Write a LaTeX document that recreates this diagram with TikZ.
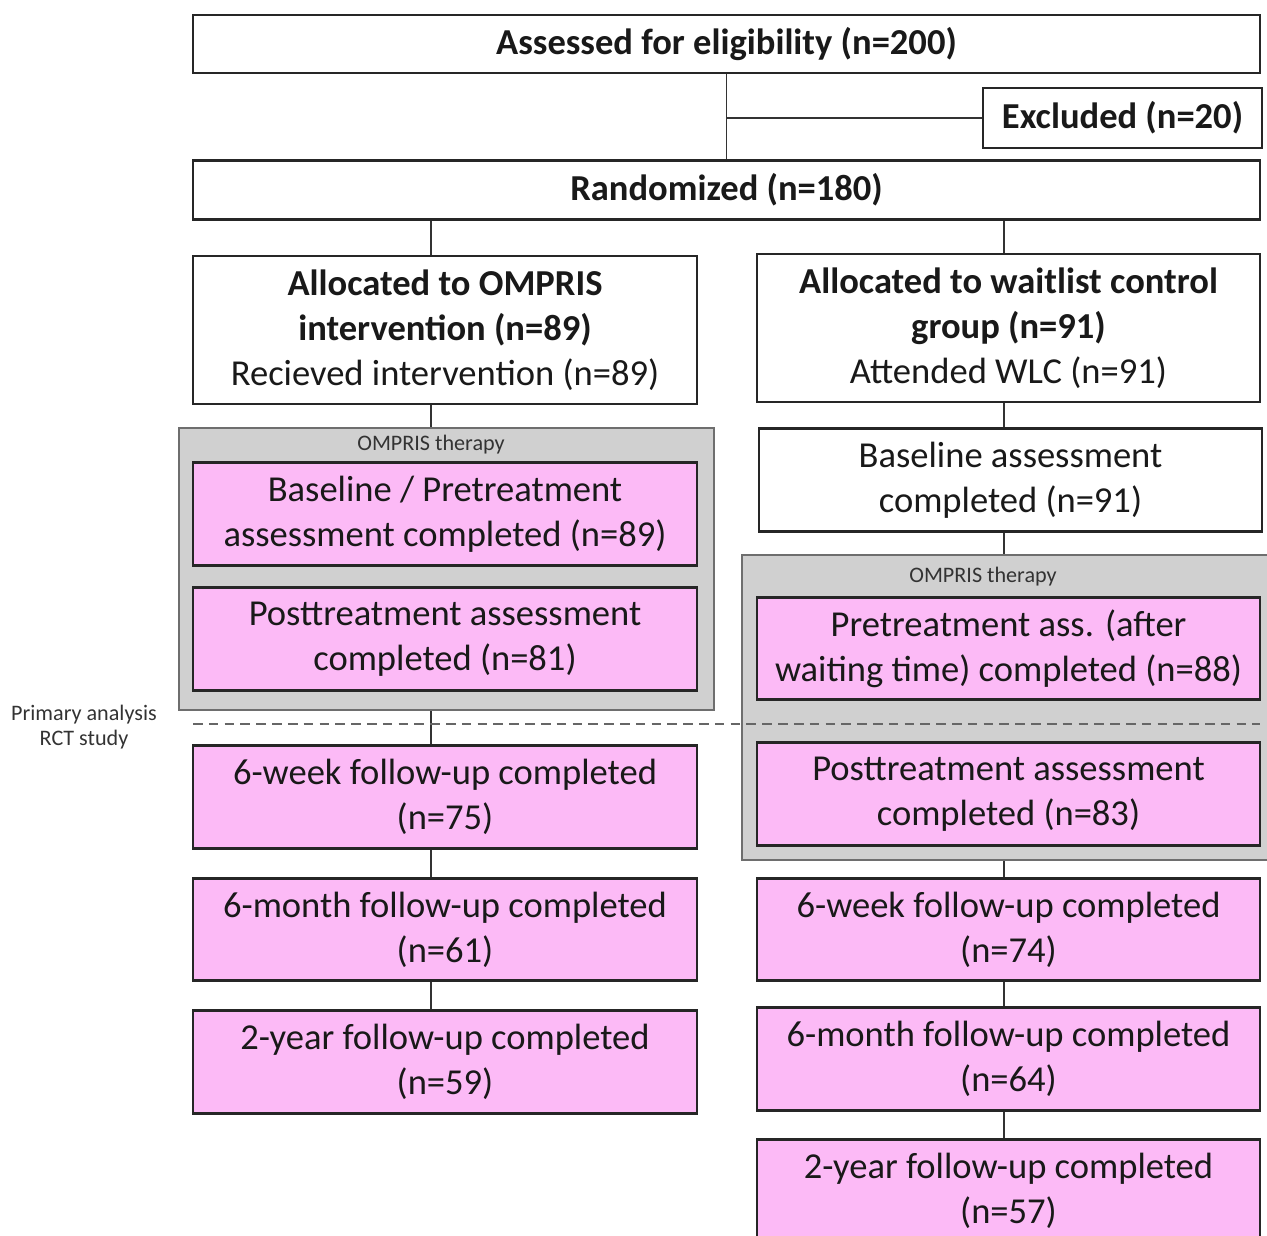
\documentclass[tikz,border=0pt]{standalone}
\usepackage{fontspec}
\setmainfont{Carlito}
\definecolor{pinkfill}{RGB}{252,186,246}
\definecolor{grayfill}{RGB}{208,208,208}
\definecolor{grayedge}{RGB}{110,110,110}
\definecolor{textcol}{RGB}{25,25,25}
\begin{document}
\begin{tikzpicture}[x=0.02cm,y=-0.02cm,
  box/.style={draw=black!85, line width=1.3pt, fill=white, align=center, inner sep=2pt,
     font=\fontsize{20.8}{25.5}\selectfont, text=textcol},
  pbox/.style={box, fill=pinkfill},
  grp/.style={draw=grayedge, line width=1.3pt, fill=grayfill},
  conn/.style={draw=black!80, line width=0.9pt},
  small/.style={font=\fontsize{12.6}{14.5}\selectfont, text=black!80, align=center, inner sep=0pt}]
\useasboundingbox (0,0) rectangle (1267,1236);
% top boxes
\node[box, minimum width=21.34cm, minimum height=1.16cm] (assess) at (726.5,44) {\bfseries Assessed for eligibility (n=200)};
\node[box, minimum width=5.58cm, minimum height=1.2cm] (excl) at (1122.5,118) {\bfseries Excluded (n=20)};
\node[box, minimum width=21.34cm, minimum height=1.18cm] (rand) at (726.5,190) {\bfseries Randomized (n=180)};
% allocation
\node[box, minimum width=10.08cm, minimum height=2.96cm] (allocL) at (445,330) {\textbf{Allocated to OMPRIS}\\\textbf{intervention (n=89)}\\Recieved intervention (n=89)};
\node[box, minimum width=10.06cm, minimum height=2.96cm] (allocR) at (1008.5,328) {\textbf{Allocated to waitlist control}\\\textbf{group (n=91)}\\Attended WLC (n=91)};
% gray groups
\node[grp, minimum width=10.7cm, minimum height=5.64cm] (grpL) at (446.5,569) {};
\node[grp, minimum width=10.52cm, minimum height=6.1cm] (grpR) at (1005,707.5) {};
\node[small] (lblL) at (431,445) {OMPRIS therapy};
\node[small] (lblR) at (983,577) {OMPRIS therapy};
% left column
\node[pbox, minimum width=10.08cm, minimum height=2.06cm] (baseL) at (445,514) {Baseline / Pretreatment\\assessment completed (n=89)};
\node[pbox, minimum width=10.08cm, minimum height=2.06cm] (postL) at (445,639) {Posttreatment assessment\\completed (n=81)};
\node[pbox, minimum width=10.08cm, minimum height=2.06cm] (wkL) at (445,797) {6-week follow-up completed\\(n=75)};
\node[pbox, minimum width=10.08cm, minimum height=2.04cm] (moL) at (445,929.5) {6-month follow-up completed\\(n=61)};
\node[pbox, minimum width=10.08cm, minimum height=2.06cm] (yrL) at (445,1062) {2-year follow-up completed\\(n=59)};
% right column
\node[box, minimum width=10.06cm, minimum height=2.06cm] (baseR) at (1010.5,480) {Baseline assessment\\completed (n=91)};
\node[pbox, minimum width=10.06cm, minimum height=2.04cm] (preR) at (1008.5,648.5) {Pretreatment ass. (after\\waiting time) completed (n=88)};
\node[pbox, minimum width=10.06cm, minimum height=2.06cm] (postR) at (1008.5,794) {Posttreatment assessment\\completed (n=83)};
\node[pbox, minimum width=10.06cm, minimum height=2.04cm] (wkR) at (1008.5,929.5) {6-week follow-up completed\\(n=74)};
\node[pbox, minimum width=10.06cm, minimum height=2.06cm] (moR) at (1008.5,1059) {6-month follow-up completed\\(n=64)};
\node[pbox, minimum width=10.06cm, minimum height=2.06cm] (yrR) at (1008.5,1191) {2-year follow-up completed\\(n=57)};
% side label
\node[small] (prim) at (84,727) {Primary analysis\\RCT study};
% helper coordinates
\coordinate (xl) at (431,0);
\coordinate (xr) at (1004,0);
% connectors
\draw[conn] (assess.south) -- (rand.north);
\draw[conn] (excl.west) -- (excl.west -| assess.south);
\draw[conn] (rand.south -| xl) -- (allocL.north -| xl);
\draw[conn] (rand.south -| xr) -- (allocR.north -| xr);
\draw[conn] (allocL.south -| xl) -- (grpL.north -| xl);
\draw[conn] (grpL.south -| xl) -- (wkL.north -| xl);
\draw[conn] (wkL.south -| xl) -- (moL.north -| xl);
\draw[conn] (moL.south -| xl) -- (yrL.north -| xl);
\draw[conn] (allocR.south -| xr) -- (baseR.north -| xr);
\draw[conn] (baseR.south -| xr) -- (grpR.north -| xr);
\draw[conn] (grpR.south -| xr) -- (wkR.north -| xr);
\draw[conn] (wkR.south -| xr) -- (moR.north -| xr);
\draw[conn] (moR.south -| xr) -- (yrR.north -| xr);
% dashed line
\coordinate (dA) at (193,724);
\coordinate (dB) at (1260,724);
\draw[draw=black!60, line width=1.1pt, dash pattern=on 5.5pt off 3.5pt] (dA) -- (dB);
\end{tikzpicture}
\end{document}
